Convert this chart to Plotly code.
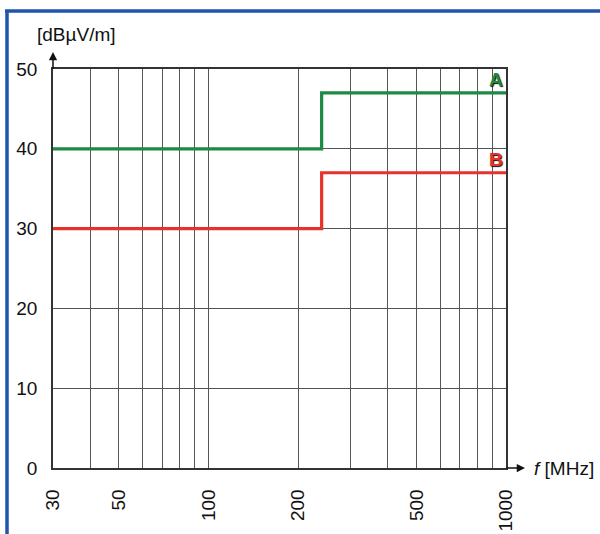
import math
import plotly.graph_objects as go

# Radiated emission limits (quasi-peak), step at the band edge
freq_mhz = [30, 240, 1000]
limit_a = [40, 47, 47]
limit_b = [30, 37, 37]

# Axis ticks
x_grid = [30, 40, 50, 60, 70, 80, 90, 100, 200, 300, 400, 500, 600, 700, 800, 900, 1000]
x_labelled = [30, 50, 100, 200, 500, 1000]
y_ticks = [0, 10, 20, 30, 40, 50]

x_text = [str(v) if v in x_labelled else "" for v in x_grid]

GREEN = "#1c8a42"
RED = "#e8312b"
GRID = "#555555"
FONT = "Liberation Sans, Arial, sans-serif"

PLOT_W = 453
PLOT_H = 399

fig = go.Figure()
fig.add_trace(go.Scatter(x=freq_mhz, y=limit_a, mode="lines", line_shape="hv",
                         line=dict(color=GREEN, width=3.2), hoverinfo="skip"))
fig.add_trace(go.Scatter(x=freq_mhz, y=limit_b, mode="lines", line_shape="hv",
                         line=dict(color=RED, width=3.2), hoverinfo="skip"))

fig.update_xaxes(type="log", range=[math.log10(30), math.log10(1000)],
                 tickmode="array", tickvals=x_grid, ticktext=x_text,
                 tickangle=-90, ticks="", ticklabelstandoff=12, automargin=False,
                 showgrid=True, gridcolor=GRID, gridwidth=1.4,
                 showline=True, linecolor="#333", linewidth=1.5, mirror=True,
                 zeroline=False, tickfont=dict(size=19, color="#111", family=FONT))
fig.update_yaxes(range=[0, 50], tickmode="array", tickvals=y_ticks,
                 ticks="", ticklabelstandoff=10, automargin=False,
                 showgrid=True, gridcolor=GRID, gridwidth=1.4,
                 showline=True, linecolor="#333", linewidth=1.5, mirror=True,
                 zeroline=False, tickfont=dict(size=19, color="#111", family=FONT))

x_max_log = math.log10(1000)

annotations = [
    # y-axis arrow
    dict(x=0, y=1 + 17 / PLOT_H, xref="paper", yref="paper", text="", showarrow=True,
         ax=0, ay=18, axref="pixel", ayref="pixel", arrowhead=2, arrowsize=1.1,
         arrowwidth=1.5, arrowcolor="#111"),
    # x-axis arrow
    dict(x=1 + 19 / PLOT_W, y=0, xref="paper", yref="paper", text="", showarrow=True,
         ax=-20, ay=0, axref="pixel", ayref="pixel", arrowhead=2, arrowsize=1.1,
         arrowwidth=1.5, arrowcolor="#111"),
    # axis titles
    dict(x=(532 - 53) / PLOT_W, y=0, xref="paper", yref="paper", text="<i>f</i> [MHz]",
         showarrow=False, xanchor="left", yanchor="middle",
         font=dict(size=19, color="#111", family=FONT)),
    dict(x=(35 - 53) / PLOT_W, y=(468 - 35) / PLOT_H, xref="paper", yref="paper",
         text="[dBµV/m]", showarrow=False, xanchor="left", yanchor="middle",
         font=dict(size=19, color="#111", family=FONT)),
    # class labels
    dict(x=x_max_log, y=limit_a[-1], xref="x", yref="y", text="<b>A</b>",
         showarrow=False, xanchor="right", yanchor="bottom", xshift=-1, yshift=1,
         font=dict(size=19, color=GREEN, family=FONT,
                   shadow="1px 1px 1px #111")),
    dict(x=x_max_log, y=limit_b[-1], xref="x", yref="y", text="<b>B</b>",
         showarrow=False, xanchor="right", yanchor="bottom", xshift=-1, yshift=1,
         font=dict(size=19, color=RED, family=FONT,
                   shadow="1px 1px 1px #111")),
]

# Blue frame along the left and top edges of the figure
shapes = [
    dict(type="line", xref="paper", yref="paper",
         x0=(7 - 53) / PLOT_W, x1=(7 - 53) / PLOT_W,
         y0=(468 - 540) / PLOT_H, y1=(468 - 10) / PLOT_H,
         line=dict(color="#1f55ad", width=3.5)),
    dict(type="line", xref="paper", yref="paper",
         x0=(5 - 53) / PLOT_W, x1=(610 - 53) / PLOT_W,
         y0=(468 - 11) / PLOT_H, y1=(468 - 11) / PLOT_H,
         line=dict(color="#1f55ad", width=3.5)),
]

fig.update_layout(width=600, height=534, showlegend=False,
                  paper_bgcolor="white", plot_bgcolor="white",
                  margin=dict(l=53, r=94, t=69, b=66),
                  annotations=annotations, shapes=shapes,
                  font=dict(family=FONT))

fig.write_html("out.html")
